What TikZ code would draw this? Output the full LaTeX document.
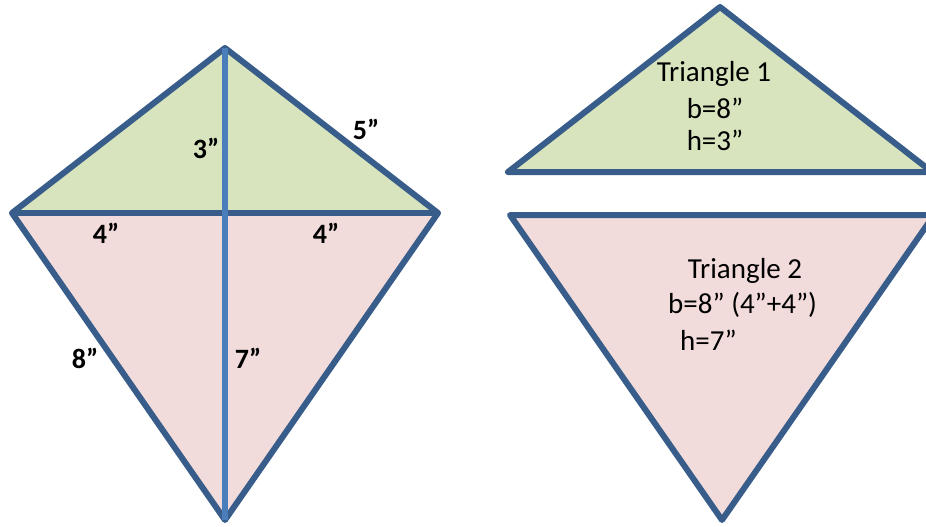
\documentclass[tikz,border=0pt]{standalone}
\usepackage{fontspec}
\setmainfont{Carlito}
\usepackage{tikz}
\usetikzlibrary{positioning,calc}
\definecolor{kiteline}{HTML}{385D8A}
\definecolor{spine}{HTML}{4A7EBB}
\definecolor{topfill}{HTML}{D7E4BD}
\definecolor{lowfill}{HTML}{F2DCDB}
\tikzset{
  edge/.style={draw=kiteline, line width=6pt, line join=round},
  measure/.style={font=\fontsize{28}{30}\selectfont\bfseries, inner sep=1pt},
  info/.style={font=\fontsize{29}{32}\selectfont, inner sep=1pt}
}

\begin{document}
\begin{tikzpicture}[x=1pt, y=-1pt]
  \useasboundingbox (0,0) rectangle (926,527);
  \clip (0,0) rectangle (926,527);
  % kite corners
  \coordinate (top) at (225,48);
  \coordinate (left) at (12,213);
  \coordinate (right) at (438,213);
  \coordinate (bottom) at (225,520);
  \fill[topfill] (left) -- (top) -- (right) -- cycle;
  \fill[lowfill] (left) -- (bottom) -- (right) -- cycle;
  \draw[edge] (left) -- (top) -- (right) -- (bottom) -- cycle;
  \draw[edge] (left) -- (right);
  \draw[draw=spine, line width=6pt] (top) -- (bottom);
  % kite measures
  \node[measure] (hup) at (206,148) {3”};
  \node[measure] (side) at (366,129) {5”};
  \node[measure] (halfl) at (106,233) {4”};
  \node[measure] (halfr) at (326,233) {4”};
  \node[measure] (lside) at (85,358) {8”};
  \node[measure] (hlow) at (248,358) {7”};
  % the two triangles
  \coordinate (apex1) at (720,7);
  \coordinate (bl1) at (508,172);
  \coordinate (br1) at (932,172);
  \coordinate (tl2) at (510,215);
  \coordinate (tr2) at (934,215);
  \coordinate (apex2) at (722,520);
  \filldraw[edge, fill=topfill] (bl1) -- (apex1) -- (br1) -- cycle;
  \filldraw[edge, fill=lowfill] (tl2) -- (tr2) -- (apex2) -- cycle;
  \node[info] (tri1) at (714,74) {Triangle 1};
  \node[info] (b1) at (715,108) {b=8”};
  \node[info] (h1) at (715,140) {h=3”};
  \node[info] (tri2) at (745,271) {Triangle 2};
  \node[info, anchor=west] (b2) at (667,305) {b=8” (4”+4”)};
  \node[info, anchor=west] (h2) at (679,340) {h=7”};
\end{tikzpicture}
\end{document}
